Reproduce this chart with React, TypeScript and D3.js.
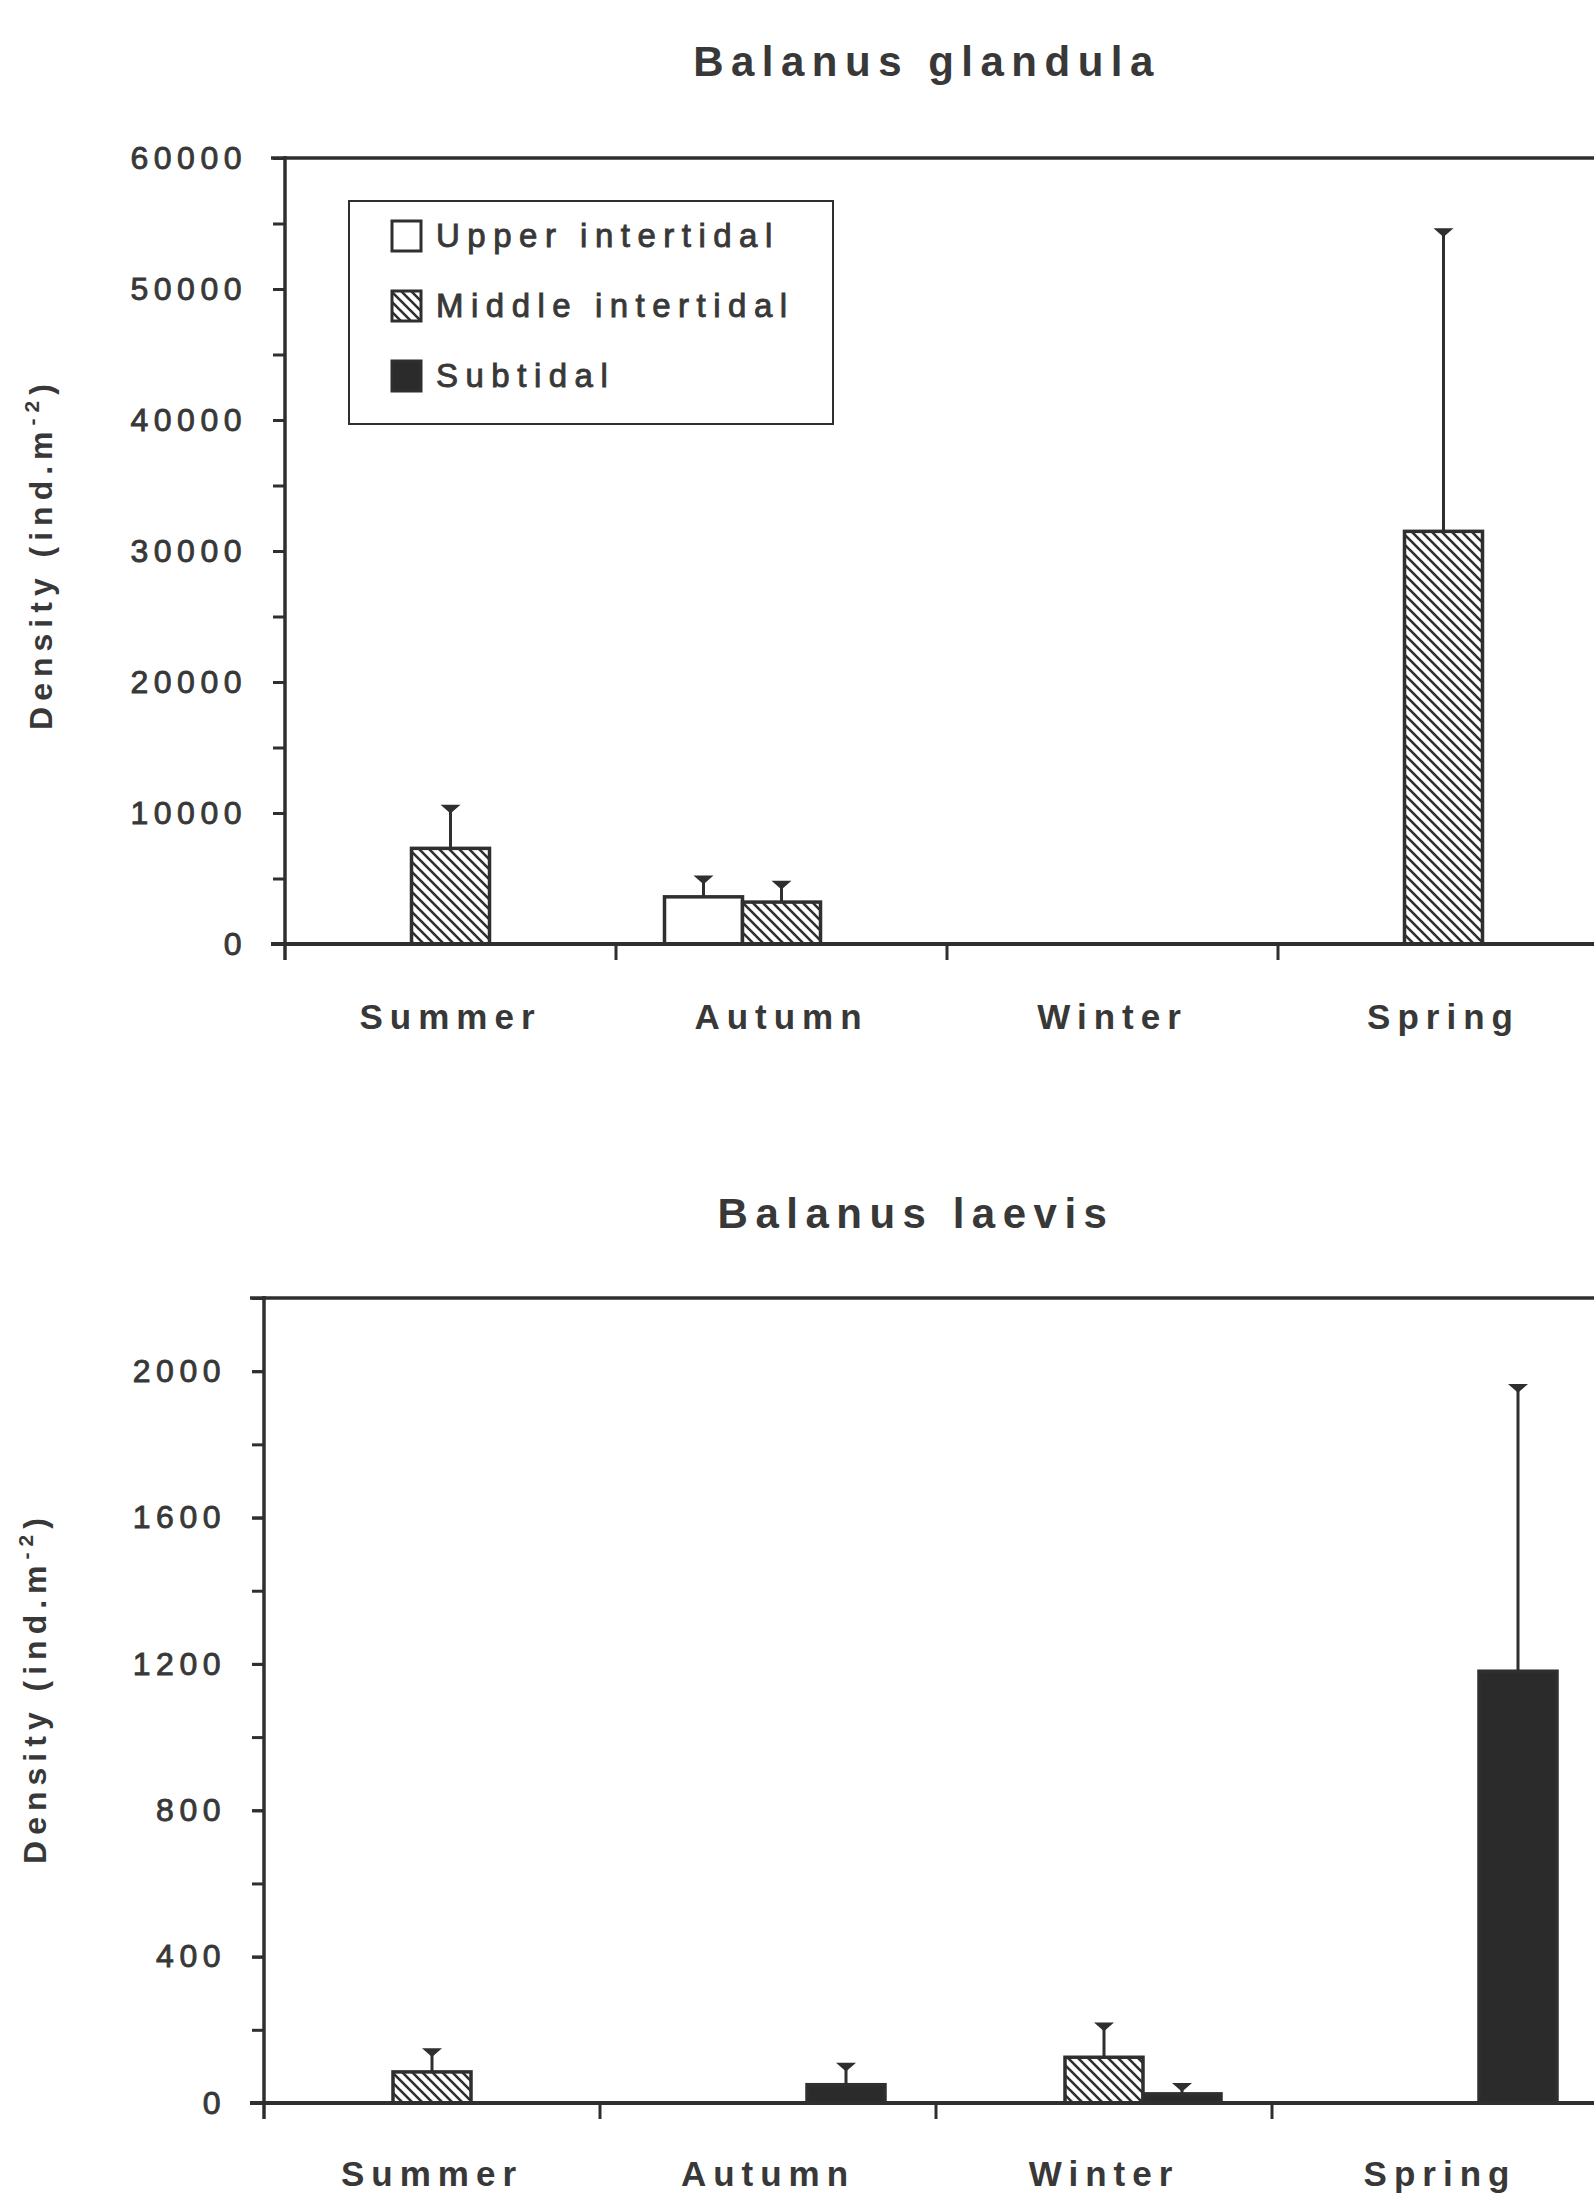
import React, { useEffect, useRef } from "react";
import * as d3 from "d3";

// seasons and habitats
const categories = ["Summer", "Autumn", "Winter", "Spring"];
const habitats = ["Upper intertidal", "Middle intertidal", "Subtidal"];

// Balanus glandula, density (ind.m-2) and upper error
const glandulaUpper = [0, 3600, 0, 0];
const glandulaUpperErr = [0, 1500, 0, 0];
const glandulaMiddle = [7300, 3200, 0, 31500];
const glandulaMiddleErr = [3200, 1500, 0, 23000];
const glandulaSub = [0, 0, 0, 0];
const glandulaSubErr = [0, 0, 0, 0];
const glandulaTicks = [0, 10000, 20000, 30000, 40000, 50000, 60000];

// Balanus laevis
const laevisUpper = [0, 0, 0, 0];
const laevisUpperErr = [0, 0, 0, 0];
const laevisMiddle = [85, 0, 125, 0];
const laevisMiddleErr = [60, 0, 90, 0];
const laevisSub = [0, 50, 25, 1180];
const laevisSubErr = [0, 55, 25, 780];
const laevisTicks = [0, 400, 800, 1200, 1600, 2000];

const INK = "#2f2f2f";
const TXT = "#383838";
const FONT = "'Liberation Sans', Arial, sans-serif";
const BAR_W = 78;

function drawPanel(svg, cfg) {
  const g = svg.append("g");

  const x = d3.scaleBand().domain(categories)
    .range([cfg.left, cfg.left + 4 * cfg.band]);
  const sub = d3.scaleBand().domain(habitats)
    .range([-1.5 * BAR_W, 1.5 * BAR_W]);
  const y = d3.scaleLinear().domain([0, cfg.yMax])
    .range([cfg.bottom, cfg.top]);

  // title
  g.append("text")
    .attr("x", cfg.titleX).attr("y", cfg.titleY)
    .attr("text-anchor", "middle")
    .attr("font-family", FONT).attr("font-weight", "bold")
    .attr("font-size", 42).attr("letter-spacing", 7.5)
    .attr("fill", TXT)
    .text(cfg.title);

  // frame top
  g.append("line")
    .attr("x1", cfg.left - 14).attr("x2", 1600)
    .attr("y1", y(cfg.yMax)).attr("y2", y(cfg.yMax))
    .attr("stroke", INK).attr("stroke-width", 3.5);

  // minor ticks
  const minor = d3.range(0, cfg.yMax + 1, cfg.minorStep);
  g.append("g")
    .attr("transform", `translate(${cfg.left},0)`)
    .call(d3.axisLeft(y).tickValues(minor).tickSize(12).tickFormat(() => ""))
    .call(s => s.select(".domain").remove())
    .call(s => s.selectAll("line").attr("stroke", INK).attr("stroke-width", 3));

  // major ticks + labels
  g.append("g")
    .attr("transform", `translate(${cfg.left},0)`)
    .call(d3.axisLeft(y).tickValues(cfg.ticks).tickSize(12).tickPadding(26)
      .tickFormat(d3.format("d")))
    .call(s => s.select(".domain").remove())
    .call(s => s.selectAll("line").attr("stroke", INK).attr("stroke-width", 3))
    .call(s => s.selectAll("text")
      .attr("font-family", FONT).attr("font-size", 32)
      .attr("letter-spacing", 5.5).attr("fill", TXT)
      .attr("stroke", TXT).attr("stroke-width", 0.9));

  // y axis line
  g.append("line")
    .attr("x1", cfg.left).attr("x2", cfg.left)
    .attr("y1", y(cfg.yMax) - 2).attr("y2", cfg.bottom + 16)
    .attr("stroke", INK).attr("stroke-width", 3.5);

  // y label
  const yl = g.append("text")
    .attr("transform", `translate(${cfg.ylabX},${cfg.ylabY}) rotate(-90)`)
    .attr("text-anchor", "middle")
    .attr("font-family", FONT).attr("font-weight", "bold")
    .attr("font-size", 32).attr("letter-spacing", 6)
    .attr("fill", TXT);
  yl.append("tspan").text("Density (ind.m");
  yl.append("tspan").attr("font-size", 21).attr("dy", -13).text("-2");
  yl.append("tspan").attr("dy", 13).text(")");

  // bars
  const series = [
    { key: habitats[0], vals: cfg.upper, err: cfg.upperErr, fill: "#ffffff" },
    { key: habitats[1], vals: cfg.middle, err: cfg.middleErr, fill: "url(#hatch)" },
    { key: habitats[2], vals: cfg.sub, err: cfg.subErr, fill: "#2b2b2b" },
  ];
  series.forEach(s => {
    const pts = categories
      .map((c, i) => ({ c, v: s.vals[i], e: s.err[i] }))
      .filter(d => d.v > 0);
    const cx = d => x(d.c) + x.bandwidth() / 2 + sub(s.key) + sub.bandwidth() / 2;

    // error bars
    g.selectAll(null).data(pts).enter().append("line")
      .attr("x1", cx).attr("x2", cx)
      .attr("y1", d => y(d.v)).attr("y2", d => y(d.v + d.e))
      .attr("stroke", INK).attr("stroke-width", 3);
    g.selectAll(null).data(pts).enter().append("path")
      .attr("d", d => {
        const xx = cx(d), yy = y(d.v + d.e);
        return `M${xx - 8},${yy - 1}L${xx + 8},${yy - 1}L${xx},${yy + 6}Z`;
      })
      .attr("fill", INK).attr("stroke", INK).attr("stroke-width", 1.5);

    g.selectAll(null).data(pts).enter().append("rect")
      .attr("x", d => cx(d) - BAR_W / 2)
      .attr("width", BAR_W)
      .attr("y", d => y(d.v))
      .attr("height", d => y(0) - y(d.v))
      .attr("fill", s.fill)
      .attr("stroke", INK).attr("stroke-width", 3.5);
  });

  // baseline
  g.append("line")
    .attr("x1", cfg.left - 14).attr("x2", 1600)
    .attr("y1", y(0)).attr("y2", y(0))
    .attr("stroke", INK).attr("stroke-width", 4);

  // category separators below the axis
  g.selectAll(null).data(categories.slice(1)).enter().append("line")
    .attr("x1", d => x(d)).attr("x2", d => x(d))
    .attr("y1", y(0)).attr("y2", y(0) + 16)
    .attr("stroke", INK).attr("stroke-width", 3);

  // category labels
  g.append("g")
    .attr("transform", `translate(0,${y(0)})`)
    .call(d3.axisBottom(x).tickSize(0).tickPadding(cfg.labelPad))
    .call(s => s.select(".domain").remove())
    .call(s => s.selectAll("text")
      .attr("font-family", FONT).attr("font-weight", "bold")
      .attr("font-size", 35).attr("letter-spacing", 7)
      .attr("fill", TXT));

  // legend
  if (cfg.legend) {
    const lg = g.append("g");
    lg.append("rect")
      .attr("x", 349).attr("y", 201).attr("width", 484).attr("height", 223)
      .attr("fill", "#fff").attr("stroke", INK).attr("stroke-width", 2);
    const fills = ["#ffffff", "url(#hatch)", "#2b2b2b"];
    habitats.forEach((h, i) => {
      const yy = 236 + i * 70;
      lg.append("rect")
        .attr("x", 392).attr("y", yy - 15).attr("width", 29).attr("height", 30)
        .attr("fill", fills[i]).attr("stroke", INK).attr("stroke-width", 3);
      lg.append("text")
        .attr("x", 436).attr("y", yy + 11)
        .attr("font-family", FONT).attr("font-size", 33)
        .attr("letter-spacing", 7.5).attr("fill", TXT)
        .attr("stroke", TXT).attr("stroke-width", 0.9)
        .text(h);
    });
  }
}

export default function App() {
  const svgRef = useRef(null);

  useEffect(() => {
    const svg = d3.select(svgRef.current);
    svg.selectAll("*").remove();

    const defs = svg.append("defs");
    const pat = defs.append("pattern")
      .attr("id", "hatch").attr("patternUnits", "userSpaceOnUse")
      .attr("width", 10).attr("height", 10);
    pat.append("rect").attr("width", 10).attr("height", 10).attr("fill", "#fff");
    pat.append("path")
      .attr("d", "M-5,5L5,15M0,0L10,10M5,-5L15,5")
      .attr("stroke", INK).attr("stroke-width", 2.6);

    drawPanel(svg, {
      title: "Balanus glandula", titleX: 927, titleY: 76,
      left: 285, band: 331, top: 158, bottom: 944,
      yMax: 60000, ticks: glandulaTicks, minorStep: 5000,
      upper: glandulaUpper, upperErr: glandulaUpperErr,
      middle: glandulaMiddle, middleErr: glandulaMiddleErr,
      sub: glandulaSub, subErr: glandulaSubErr,
      ylabX: 52, ylabY: 554, labelPad: 60, legend: true,
    });

    drawPanel(svg, {
      title: "Balanus laevis", titleX: 916, titleY: 1228,
      left: 264, band: 336, top: 1298, bottom: 2103,
      yMax: 2200, ticks: laevisTicks, minorStep: 200,
      upper: laevisUpper, upperErr: laevisUpperErr,
      middle: laevisMiddle, middleErr: laevisMiddleErr,
      sub: laevisSub, subErr: laevisSubErr,
      ylabX: 46, ylabY: 1688, labelPad: 58, legend: false,
    });
  }, []);

  return (
    <svg ref={svgRef} width={1594} height={2200}
      style={{ position: "absolute", left: 0, top: 0, background: "#fff" }} />
  );
}
